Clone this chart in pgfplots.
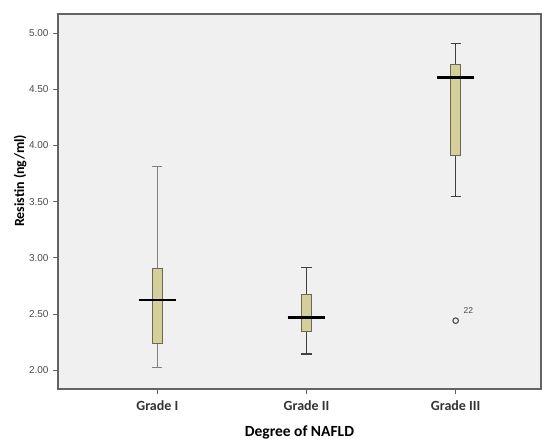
\documentclass[border=0pt]{standalone}
\usepackage{fontspec}
\setmainfont{Carlito}
\newfontfamily\arialfont{Liberation Sans}
\usepackage{pgfplots}
\pgfplotsset{compat=1.18}
\usepgfplotslibrary{statistics}
\definecolor{boxfill}{RGB}{213,208,155}
\definecolor{boxedge}{RGB}{105,105,85}
\definecolor{bgc}{RGB}{240,240,240}
\definecolor{axc}{RGB}{100,100,100}
\definecolor{tickc}{RGB}{75,75,75}
\begin{document}
\begin{tikzpicture}
\begin{axis}[
  scale only axis,
  width=483pt, height=375pt,
  xmin=0.334, xmax=3.572,
  ymin=1.833, ymax=5.17,
  axis background/.style={fill=bgc},
  axis line style={axc, line width=1.1pt},
  xtick={1,2,3},
  xticklabels={Grade I, Grade II, Grade III},
  ytick={2,2.5,3,3.5,4,4.5,5},
  xtick pos=left, ytick pos=left,
  tick align=outside,
  major tick length=5pt,
  tick style={axc, line width=0.9pt},
  yticklabel style={/pgf/number format/fixed, /pgf/number format/fixed zerofill, /pgf/number format/precision=2, /pgf/number format/assume math mode=true, font=\arialfont\fontsize{10}{12}\selectfont, text=tickc, xshift=-1pt},
  xticklabel style={font=\bfseries\fontsize{14}{16}\selectfont, text=black!80, yshift=-3pt},
  every axis y label/.style={at={(axis description cs:0,0.555)}, xshift=-38pt, rotate=90, anchor=center, font=\bfseries\fontsize{14}{16}\selectfont},
  every axis x label/.style={at={(axis description cs:0.5,0)}, anchor=center, yshift=-43pt, font=\bfseries\fontsize{15.5}{17}\selectfont},
  ylabel={Resistin (ng/ml)},
  xlabel={Degree of NAFLD},
  clip=false,
  boxplot/draw direction=y,
  boxplot/box extend=0.068,
  boxplot/whisker extend=0.068,
  boxplot/every whisker/.style={draw=black!75, line width=1.1pt},
  boxplot/draw/median/.code={\draw[black, line width=2.9pt] (boxplot box cs:\pgfplotsboxplotvalue{median},-1.35) -- (boxplot box cs:\pgfplotsboxplotvalue{median},2.35);},
]
\addplot[boxplot prepared={draw position=1, median=2.625, upper quartile=2.91, lower quartile=2.242, upper whisker=3.81, lower whisker=2.022,
    every whisker/.style={draw=black!50, line width=1.1pt}},
  fill=boxfill, draw=boxedge, line width=0.9pt]
  coordinates {};
\addplot[boxplot prepared={draw position=2, median=2.471, upper quartile=2.676, lower quartile=2.343, upper whisker=2.916, lower whisker=2.144},
  fill=boxfill, draw=boxedge, line width=0.9pt]
  coordinates {};
\addplot[boxplot prepared={draw position=3, median=4.605, upper quartile=4.724, lower quartile=3.914, upper whisker=4.905, lower whisker=3.542},
  fill=boxfill, draw=boxedge, line width=0.9pt, mark=o, mark size=2.8pt, mark options={draw=tickc, line width=1.1pt, fill=none}]
  table[row sep=\\, y index=0] {2.441\\};
\node[font=\arialfont\fontsize{8.5}{10}\selectfont, text=tickc, anchor=west] at (axis cs:3.03,2.53) {22};
\end{axis}
\pgfresetboundingbox
\path (-58pt,-50pt) rectangle (484pt,389pt);
\end{tikzpicture}
\end{document}
